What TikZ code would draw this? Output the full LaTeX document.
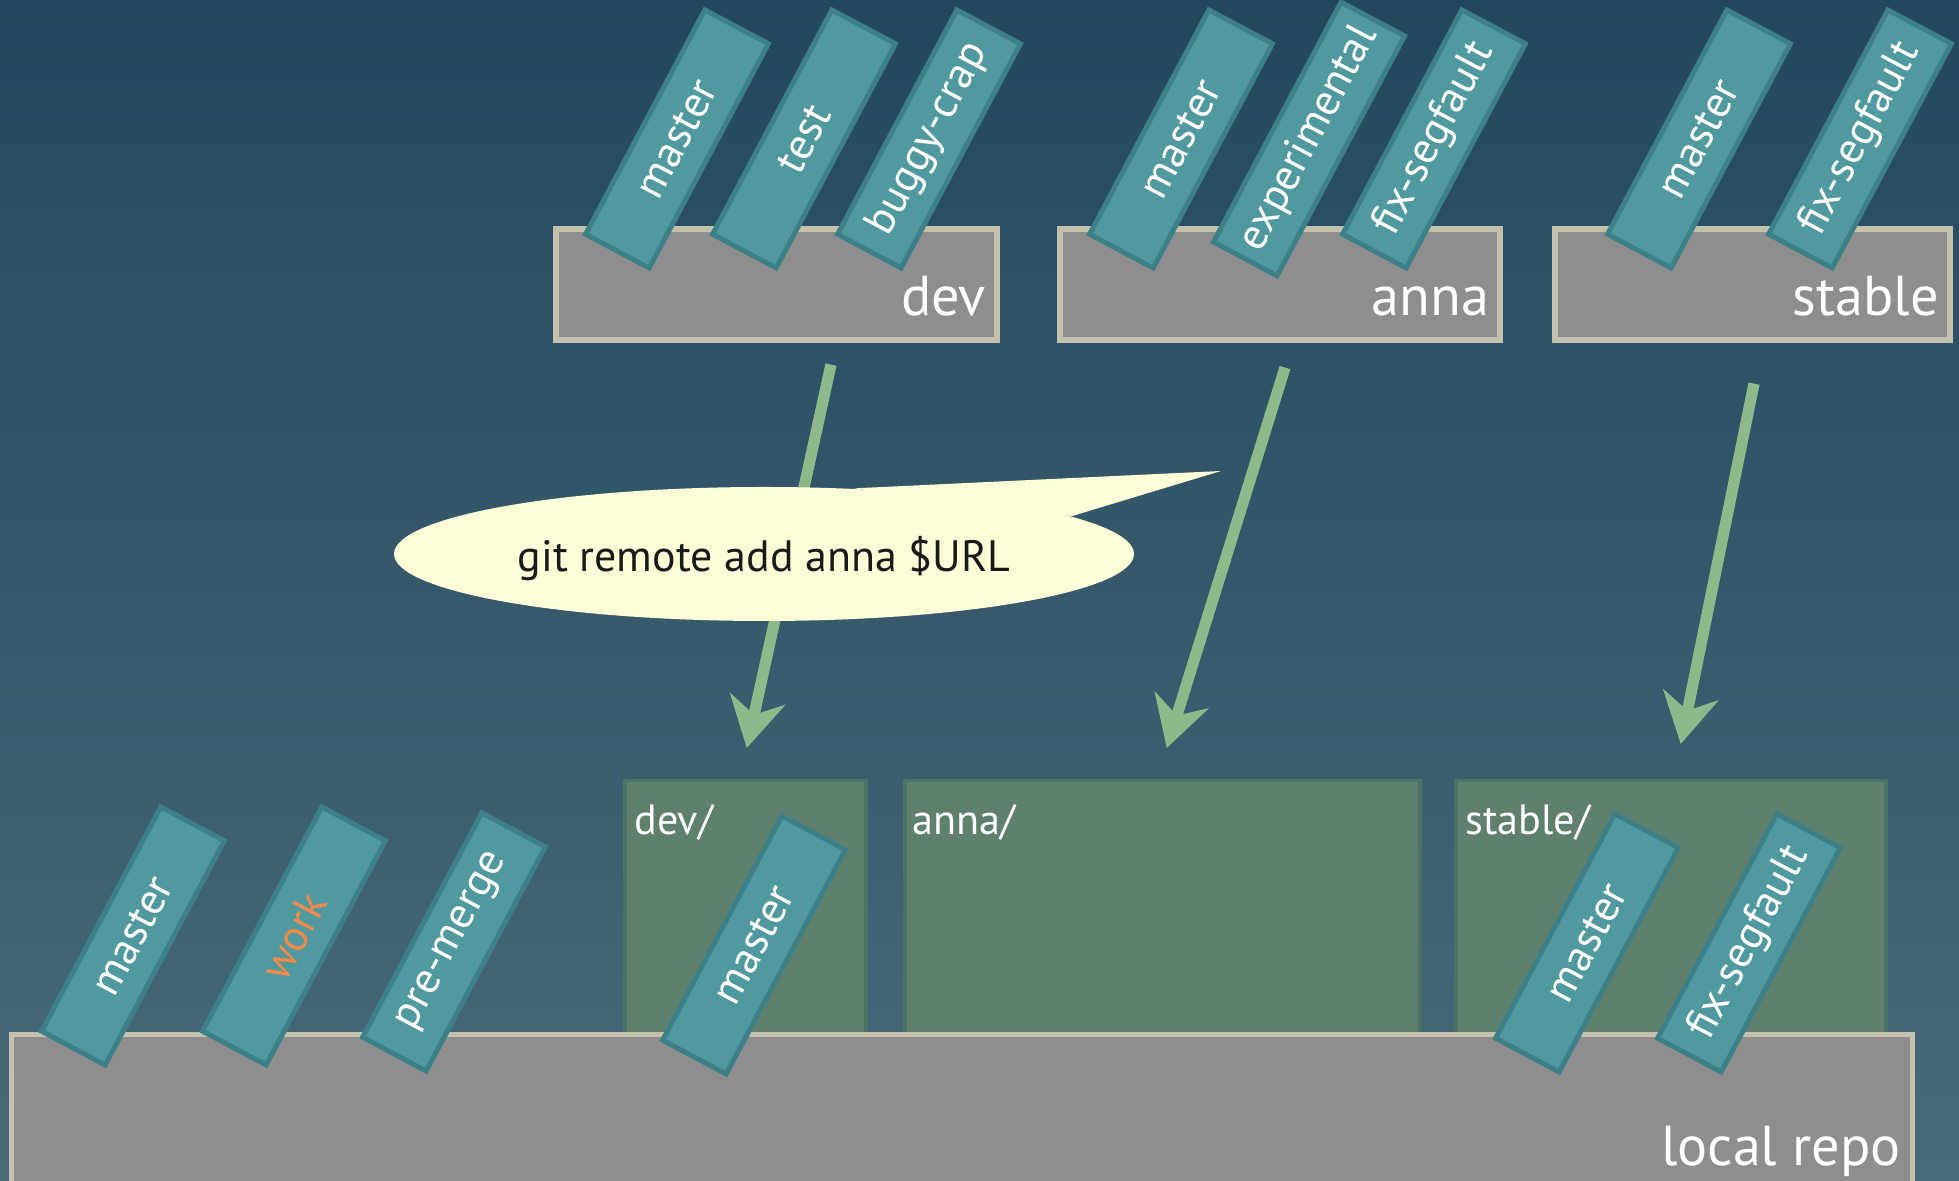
\documentclass[tikz,border=0pt]{standalone}
\usepackage{fontspec}
\setmainfont{PT Sans}
\usetikzlibrary{
  shapes.geometric,
  arrows.meta,
  positioning,
  calc
}
\definecolor{bgtop}{RGB}{35,72,93}
\definecolor{bgbottom}{RGB}{72,106,121}
\definecolor{repogray}{RGB}{142,142,142}
\definecolor{repoedge}{RGB}{194,194,174}
\definecolor{tagfill}{RGB}{80,153,158}
\definecolor{tagedge}{RGB}{62,128,136}
\definecolor{trackfill}{RGB}{95,128,108}
\definecolor{trackedge}{RGB}{76,114,100}
\definecolor{fetchgreen}{RGB}{143,185,138}
\definecolor{bubblefill}{RGB}{253,253,216}
\definecolor{workorange}{RGB}{240,138,75}

\begin{document}
\begin{tikzpicture}[
  repo/.style={rectangle, draw=repoedge, fill=repogray, line width=1.5pt, inner sep=0pt},
  tag/.style={rectangle, draw=tagedge, fill=tagfill, line width=1.4pt, rotate=62, minimum width=2.54cm, minimum height=0.72cm, text=white, font=\fontsize{12.5}{14}\selectfont},
  track/.style={rectangle, draw=trackedge, fill=trackfill, line width=1pt, anchor=north west, inner sep=0pt},
  repolabel/.style={text=white, font=\fontsize{16}{19}\selectfont, anchor=base east, inner sep=0pt},
  dirlabel/.style={text=white, font=\fontsize{12}{14}\selectfont, anchor=base west, inner sep=0pt},
  fetch/.style={draw=fetchgreen, line width=3.2pt, -{Stealth[length=5mm,width=5.6mm,inset=1.6mm]}},
  bubble/.style={ellipse, fill=bubblefill, minimum width=7.4cm, minimum height=1.34cm, inner sep=0pt, text=black!90, font=\fontsize{12.5}{14}\selectfont}
]
  \useasboundingbox (0,0) rectangle (19.59,11.81);
  \clip (0,0) rectangle (19.59,11.81);
  \shade[top color=bgtop, bottom color=bgbottom] (0,0) rectangle (19.59,11.81);

  % remotes
  \node[repo, minimum width=4.41cm, minimum height=1.11cm] (dev) at (7.765,8.965) {};
  \node[repo, minimum width=4.40cm, minimum height=1.11cm] (anna) at (12.80,8.965) {};
  \node[repo, minimum width=3.95cm, minimum height=1.11cm] (stable) at (17.525,8.965) {};
  \node[repolabel] at ([xshift=-1.3mm,yshift=2.7mm]dev.south east) {dev};
  \node[repolabel] at ([xshift=-1.3mm,yshift=2.7mm]anna.south east) {anna};
  \node[repolabel] at ([xshift=-1.3mm,yshift=2.7mm]stable.south east) {stable};

  \node[tag] (devmaster) at (6.77,10.42) {master};
  \node[tag] (devtest) at (8.04,10.42) {test};
  \node[tag] (devbuggy) at (9.29,10.42) {buggy-crap};
  \node[tag] (annamaster) at (11.81,10.42) {master};
  \node[tag] (annaexp) at (13.09,10.42) {experimental};
  \node[tag] (annafix) at (14.34,10.42) {fix-segfault};
  \node[tag] (stablemaster) at (16.99,10.42) {master};
  \node[tag] (stablefix) at (18.60,10.42) {fix-segfault};

  % local repo
  \node[track, minimum width=2.41cm, minimum height=2.8cm] (devr) at (6.23,4.02) {};
  \node[track, minimum width=5.15cm, minimum height=2.8cm] (annar) at (9.03,4.02) {};
  \node[track, minimum width=4.30cm, minimum height=2.8cm] (stabler) at (14.54,4.02) {};
  \node[dirlabel] at ([xshift=1.1mm,yshift=-5.6mm]devr.north west) {dev/};
  \node[dirlabel] at ([xshift=0.9mm,yshift=-5.6mm]annar.north west) {anna/};
  \node[dirlabel] at ([xshift=1.1mm,yshift=-5.6mm]stabler.north west) {stable/};

  \node[repo, anchor=north west, minimum width=19.01cm, minimum height=2.2cm] (local) at (0.09,1.49) {};
  \node[repolabel] at ([xshift=-1.4mm,yshift=9.2mm]local.south east) {local repo};

  \node[tag] (master) at (1.33,2.45) {master};
  \node[tag, text=workorange] (work) at (2.94,2.45) {work};
  \node[tag] (premerge) at (4.54,2.39) {pre-merge};
  \node[tag] (devrmaster) at (7.54,2.36) {master};
  \node[tag] (stablermaster) at (15.87,2.38) {master};
  \node[tag] (stablerfix) at (17.49,2.38) {fix-segfault};

  % fetch arrows
  \draw[fetch] ([xshift=5.45mm,yshift=-2.2mm]dev.south) -- ([xshift=0.15mm,yshift=3.1mm]devr.north);
  \draw[fetch] ([xshift=0.5mm,yshift=-2.5mm]anna.south) -- ([xshift=0.45mm,yshift=3.1mm]annar.north);
  \draw[fetch] ([xshift=0.15mm,yshift=-4.1mm]stable.south) -- ([xshift=1mm,yshift=3.5mm]stabler.north);

  % speech bubble
  \node[bubble] (cmd) at (7.64,6.27) {};
  \coordinate (tip) at (12.21,7.10);
  \fill[bubblefill] (cmd.36) -- (tip) -- (cmd.7) -- cycle;
  \node[text=black!90, font=\fontsize{12.5}{14}\selectfont] at ([yshift=-0.5mm]cmd.center) {git remote add anna \$URL};
\end{tikzpicture}
\end{document}
